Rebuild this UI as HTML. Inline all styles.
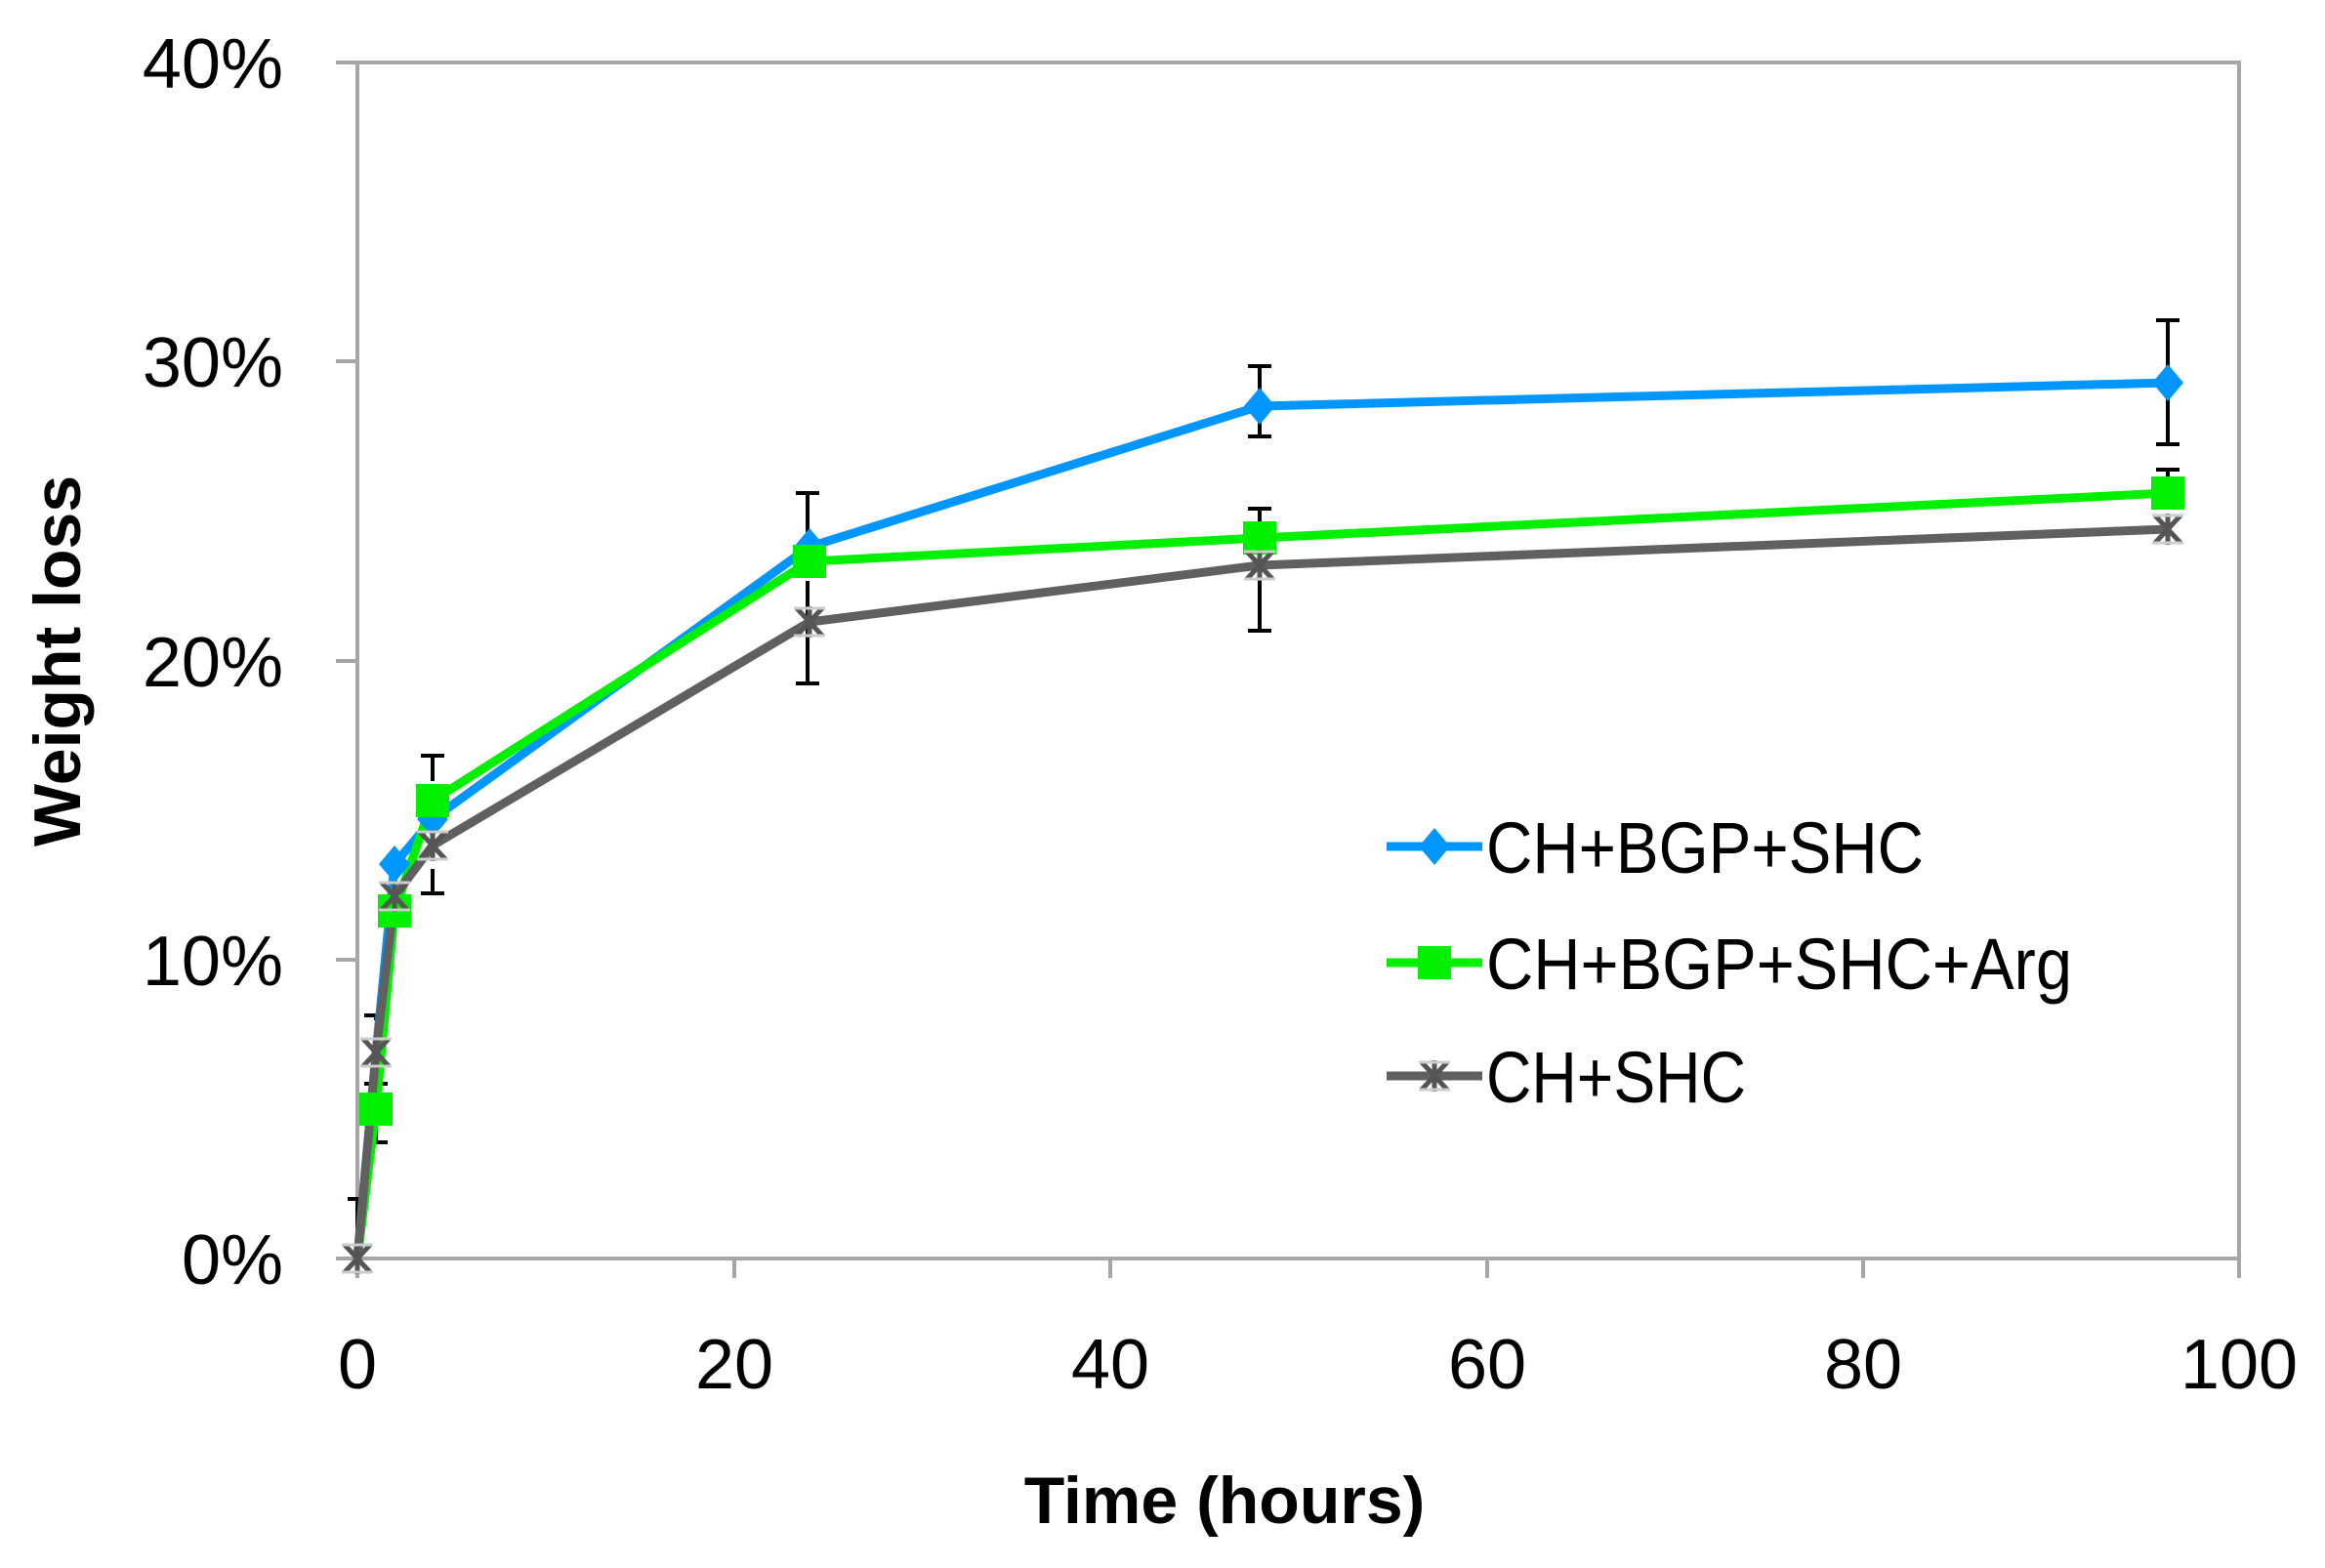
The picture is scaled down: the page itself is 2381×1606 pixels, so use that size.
<!DOCTYPE html>
<html><head><meta charset="utf-8"><style>html,body{margin:0;padding:0;background:#fff}svg{display:block}</style></head>
<body>
<svg width="2381" height="1606" viewBox="0 0 2381 1606" xmlns="http://www.w3.org/2000/svg" font-family="Liberation Sans, sans-serif">
<defs>
<g id="dia"><polygon points="0,-19 16,0 0,19 -16,0" fill="#0096ff"/></g>
<g id="sq"><rect x="-17" y="-17" width="34" height="34" fill="#00f000"/></g>
<g id="st" stroke="#555" stroke-width="5"><line x1="-13" y1="-14" x2="13" y2="14"/><line x1="-13" y1="14" x2="13" y2="-14"/><line x1="0" y1="-16" x2="0" y2="16"/><line x1="-16" y1="-14" x2="16" y2="-14" stroke="#ccc" stroke-width="3"/><line x1="-16" y1="14" x2="16" y2="14" stroke="#ccc" stroke-width="3"/></g>
</defs>
<g stroke="#a6a6a6" stroke-width="4" fill="none">
<rect x="366" y="64" width="1927" height="1225"/>
<line x1="344" y1="64" x2="366" y2="64"/><line x1="344" y1="370" x2="366" y2="370"/><line x1="344" y1="677" x2="366" y2="677"/><line x1="344" y1="983" x2="366" y2="983"/><line x1="344" y1="1289" x2="366" y2="1289"/>
<line x1="366" y1="1289" x2="366" y2="1309"/><line x1="752" y1="1289" x2="752" y2="1309"/><line x1="1137" y1="1289" x2="1137" y2="1309"/><line x1="1523" y1="1289" x2="1523" y2="1309"/><line x1="1908" y1="1289" x2="1908" y2="1309"/><line x1="2293" y1="1289" x2="2293" y2="1309"/>
</g>
<g font-size="72" fill="#000" text-anchor="end">
<text x="290" y="90">40%</text><text x="290" y="396">30%</text><text x="290" y="703">20%</text><text x="290" y="1009">10%</text><text x="290" y="1315">0%</text>
</g>
<g font-size="72" fill="#000" text-anchor="middle">
<text x="366" y="1422">0</text><text x="752" y="1422">20</text><text x="1137" y="1422">40</text><text x="1523" y="1422">60</text><text x="1908" y="1422">80</text><text x="2293" y="1422">100</text>
</g>
<text x="1254" y="1560" font-size="68" font-weight="bold" text-anchor="middle">Time (hours)</text>
<text transform="translate(82,677) rotate(-90)" font-size="68" font-weight="bold" text-anchor="middle">Weight loss</text>
<g stroke="#000" stroke-width="4">
<line x1="1290" y1="375" x2="1290" y2="447"/><line x1="1278" y1="375" x2="1302" y2="375"/><line x1="1278" y1="447" x2="1302" y2="447"/>
<line x1="2220" y1="328" x2="2220" y2="455"/><line x1="2208" y1="328" x2="2232" y2="328"/><line x1="2208" y1="455" x2="2232" y2="455"/>
<line x1="2220" y1="481" x2="2220" y2="500"/><line x1="2208" y1="481" x2="2232" y2="481"/>
<line x1="1290" y1="521" x2="1290" y2="646"/><line x1="1278" y1="521" x2="1302" y2="521"/><line x1="1278" y1="646" x2="1302" y2="646"/>
<line x1="827" y1="505" x2="827" y2="545"/><line x1="815" y1="505" x2="839" y2="505"/>
<line x1="827" y1="595" x2="827" y2="700"/><line x1="815" y1="700" x2="839" y2="700"/>
<line x1="827" y1="572" x2="827" y2="590"/><line x1="815" y1="590" x2="839" y2="590"/>
<line x1="443" y1="774" x2="443" y2="800"/><line x1="431" y1="774" x2="455" y2="774"/>
<line x1="443" y1="890" x2="443" y2="915"/><line x1="431" y1="915" x2="455" y2="915"/>
<line x1="385" y1="1040" x2="385" y2="1045"/><line x1="373" y1="1040" x2="397" y2="1040"/>
<line x1="385" y1="1120" x2="385" y2="1170"/><line x1="373" y1="1170" x2="397" y2="1170"/>
<line x1="373" y1="1110" x2="397" y2="1110"/>
<line x1="366" y1="1228" x2="366" y2="1289"/><line x1="356" y1="1228" x2="376" y2="1228"/>
</g>
<polyline fill="none" stroke="#0096ff" stroke-width="9" stroke-linejoin="round" points="366,1289 385,1080 404,885 443,839 829,560 1290,416 2220,392"/>
<polyline fill="none" stroke="#00f000" stroke-width="9" stroke-linejoin="round" points="366,1289 385,1136 404,933 443,820 829,575 1290,551 2220,505"/>
<polyline fill="none" stroke="#606060" stroke-width="9" stroke-linejoin="round" points="366,1289 385,1078 404,918 443,866 829,637 1290,579 2220,542"/>
<use href="#dia" x="404" y="885"/><use href="#dia" x="443" y="839"/><use href="#dia" x="829" y="560"/><use href="#dia" x="1290" y="416"/><use href="#dia" x="2220" y="392"/>
<use href="#sq" x="385" y="1136"/><use href="#sq" x="404" y="933"/><use href="#sq" x="443" y="820"/><use href="#sq" x="829" y="575"/><use href="#sq" x="1290" y="551"/><use href="#sq" x="2220" y="505"/>
<use href="#st" x="366" y="1289"/><use href="#st" x="385" y="1078"/><use href="#st" x="404" y="918"/><use href="#st" x="443" y="866"/><use href="#st" x="829" y="637"/><use href="#st" x="1290" y="579"/><use href="#st" x="2220" y="542"/>
<line x1="1420" y1="867" x2="1518" y2="867" stroke="#0096ff" stroke-width="9"/><use href="#dia" x="1469" y="867"/>
<line x1="1420" y1="986" x2="1518" y2="986" stroke="#00f000" stroke-width="9"/><use href="#sq" x="1469" y="986"/>
<line x1="1420" y1="1102" x2="1518" y2="1102" stroke="#606060" stroke-width="9"/><use href="#st" x="1469" y="1102"/>
<g font-size="74" fill="#000">
<text x="1522" y="894" textLength="448" lengthAdjust="spacingAndGlyphs">CH+BGP+SHC</text>
<text x="1522" y="1013" textLength="600" lengthAdjust="spacingAndGlyphs">CH+BGP+SHC+Arg</text>
<text x="1522" y="1129" textLength="266" lengthAdjust="spacingAndGlyphs">CH+SHC</text>
</g>
</svg>
</body></html>
